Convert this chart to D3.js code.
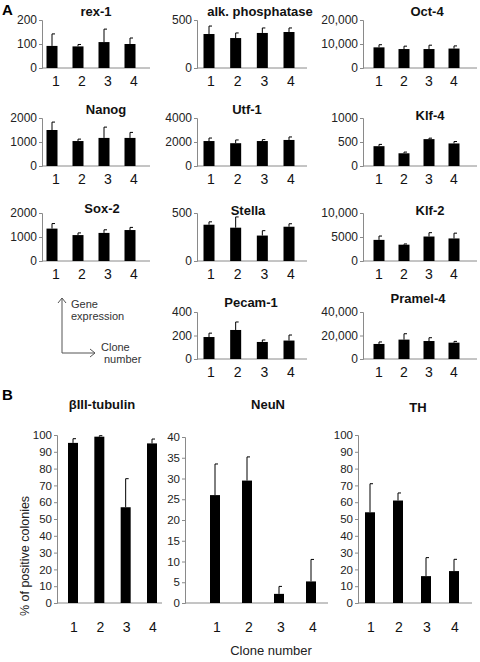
<!DOCTYPE html>
<html><head><meta charset="utf-8">
<script src="https://cdn.jsdelivr.net/npm/d3@7"></script>
<style>
body{margin:0;background:#fff;}
svg{display:block;font-family:"Liberation Sans",Arial,sans-serif;}
</style></head>
<body>
<svg id="chart" width="480" height="662"></svg>
<script>
// ---------- DATA ----------
const clones = ["1","2","3","4"];

const geneNames = ["rex-1","alk. phosphatase","Oct-4","Nanog","Utf-1","Klf-4","Sox-2","Stella","Klf-2","Pecam-1","Pramel-4"];

const rex1Mean   = [92, 90, 108, 100];     const rex1Top   = [142, 98, 162, 125];
const alkMean    = [354, 312, 365, 375];   const alkTop    = [437, 365, 417, 417];
const oct4Mean   = [8600, 7900, 7900, 8100]; const oct4Top = [9700, 9100, 9500, 9200];
const nanogMean  = [1500, 1040, 1170, 1170]; const nanogTop = [1830, 1120, 1620, 1400];
const utf1Mean   = [2080, 1900, 2080, 2170]; const utf1Top  = [2330, 2170, 2200, 2420];
const klf4Mean   = [413, 265, 560, 470];   const klf4Top   = [450, 290, 580, 510];
const sox2Mean   = [1350, 1080, 1170, 1290]; const sox2Top  = [1560, 1170, 1300, 1400];
const stellaMean = [378, 347, 265, 357];   const stellaTop = [408, 459, 316, 388];
const klf2Mean   = [4400, 3400, 5100, 4700]; const klf2Top  = [5200, 3550, 5900, 5800];
const pecamMean  = [187, 247, 145, 157];   const pecamTop  = [220, 315, 162, 204];
const pramelMean = [12800, 16500, 15300, 13900]; const pramelTop = [14500, 21500, 18100, 15000];

const geneTicks = [
  [0,100,200],[0,500],[0,10000,20000],
  [0,1000,2000],[0,2000,4000],[0,500,1000],
  [0,1000,2000],[0,500],[0,5000,10000],
  [0,200,400],[0,20000,40000]
];
const geneTickLabels = [
  ["0","100","200"],["0","500"],["0","10,000","20,000"],
  ["0","1000","2000"],["0","2000","4000"],["0","500","1000"],
  ["0","1000","2000"],["0","500"],["0","5000","10,000"],
  ["0","200","400"],["0","20,000","40,000"]
];

const btubMean = [95.3, 99, 57, 95];  const btubTop = [97.8, 99.6, 74, 97.6];
const neunMean = [26, 29.5, 2.2, 5.2]; const neunTop = [33.5, 35.2, 4, 10.5];
const thMean   = [54, 61, 16, 19];    const thTop   = [71, 65.5, 27, 26];
const pctTicks100 = [0,10,20,30,40,50,60,70,80,90,100];
const pctTicks40  = [0,5,10,15,20,25,30,35,40];
const panelBNames = ["\u03B2III-tubulin","NeuN","TH"];

// ---------- DRAW ----------
const svg = d3.select("#chart");
const AXIS = "#8a8a8a";

function drawBarChart(o){
  const g = svg.append("g");
  const y = d3.scaleLinear().domain([0, o.ticks[o.ticks.length-1]]).range([o.base, o.top]);
  const x = d3.scalePoint().domain(clones).range(o.centers);
  const ya = d3.axisLeft(y).tickValues(o.ticks).tickSize(3)
     .tickFormat((d,i)=>o.tickLabels[i]);
  const yg = g.append("g").attr("transform",`translate(${o.axisX},0)`).call(ya);
  yg.select(".domain").attr("stroke",AXIS);
  yg.selectAll(".tick line").attr("stroke",AXIS);
  yg.selectAll(".tick text").attr("fill","#222").style("font-size",o.tickFont+"px")
    .attr("x",-5).style("font-family","Liberation Sans, Arial, sans-serif");
  g.append("line").attr("x1",o.axisX).attr("x2",o.endX).attr("y1",y(0)).attr("y2",y(0))
    .attr("stroke",AXIS).attr("stroke-width",1);
  const bw = o.barW;
  const data = clones.map((c,i)=>({c, m:o.mean[i], t:o.errTop[i]}));
  g.selectAll(".err").data(data).enter().append("line")
    .attr("x1",d=>x(d.c)).attr("x2",d=>x(d.c)).attr("y1",d=>y(d.m)).attr("y2",d=>y(d.t))
    .attr("stroke","#000").attr("stroke-width",1);
  g.selectAll(".cap").data(data).enter().append("line")
    .attr("x1",d=>x(d.c)).attr("x2",d=>x(d.c)+3).attr("y1",d=>y(d.t)).attr("y2",d=>y(d.t))
    .attr("stroke","#000").attr("stroke-width",1);
  g.selectAll(".bar").data(data).enter().append("rect")
    .attr("x",d=>x(d.c)-bw/2).attr("width",bw)
    .attr("y",d=>y(d.m)).attr("height",d=>y(0)-y(d.m)).attr("fill","#000");
  g.selectAll(".cl").data(data).enter().append("text")
    .attr("x",d=>x(d.c)+(o.labelDx||0)).attr("y",o.labelY).attr("text-anchor","middle")
    .style("font-size",o.catFont+"px").attr("fill","#111").text(d=>d.c);
  g.append("text").attr("x",o.titleX).attr("y",o.titleY).attr("text-anchor","middle")
    .style("font-size",o.titleFont+"px").style("font-weight","bold").attr("fill","#111").text(o.title);
}

const means = [rex1Mean,alkMean,oct4Mean,nanogMean,utf1Mean,klf4Mean,sox2Mean,stellaMean,klf2Mean,pecamMean,pramelMean];
const tops  = [rex1Top,alkTop,oct4Top,nanogTop,utf1Top,klf4Top,sox2Top,stellaTop,klf2Top,pecamTop,pramelTop];

const cols = [
  {axisX:42, endX:150, centers:[52,130], labelDx:4},
  {axisX:197, endX:307, centers:[209,289], labelDx:2},
  {axisX:363, endX:477, centers:[379,454], labelDx:0}
];
const rows = [
  {top:20, base:68},
  {top:118, base:166},
  {top:213, base:261},
  {top:312, base:359}
];
const titlePos = [[96,16],[260,16],[427,16],[106,114],[247,114],[430,120],[102,213],[248,215],[430,215],[251,307],[418,303]];
const cellIdx = [[0,0],[0,1],[0,2],[1,0],[1,1],[1,2],[2,0],[2,1],[2,2],[3,1],[3,2]];

geneNames.forEach((name,i)=>{
  const [r,c] = cellIdx[i];
  drawBarChart({
    axisX:cols[c].axisX, endX:cols[c].endX, centers:cols[c].centers, labelDx:cols[c].labelDx,
    top:rows[r].top, base:rows[r].base,
    ticks:geneTicks[i], tickLabels:geneTickLabels[i],
    mean:means[i], errTop:tops[i], barW:11,
    labelY:rows[r].base+18, catFont:14, tickFont:12,
    title:name, titleX:titlePos[i][0], titleY:titlePos[i][1], titleFont:13
  });
});

// legend arrows
const lg = svg.append("g").attr("stroke","#555").attr("fill","none").attr("stroke-width",1);
lg.append("path").attr("d","M62,353 V298 M58,303 L62,298 L66,303");
lg.append("path").attr("d","M62,353 H95 M90,349 L95,353 L90,357");
const lt = svg.append("g").style("font-size","11px").attr("fill","#333");
lt.append("text").attr("x",71).attr("y",308).text("Gene");
lt.append("text").attr("x",71).attr("y",320).text("expression");
lt.append("text").attr("x",101).attr("y",351).text("Clone");
lt.append("text").attr("x",104).attr("y",363).text("number");

// Panel B
const bCfg = [
  {axisX:57, endX:162, centers:[73,152], top:435, base:603, ticks:pctTicks100, mean:btubMean, errTop:btubTop, titleX:102, titleY:409, labelDx:1},
  {axisX:185, endX:328, centers:[215,311], top:437, base:603, ticks:pctTicks40, mean:neunMean, errTop:neunTop, titleX:268, titleY:409, labelDx:2},
  {axisX:358, endX:472, centers:[370,454], top:435, base:603, ticks:pctTicks100, mean:thMean, errTop:thTop, titleX:418, titleY:412, labelDx:1}
];
bCfg.forEach((b,i)=>{
  drawBarChart(Object.assign({}, b, {
    tickLabels:b.ticks.map(String), barW:10, labelY:632, catFont:14, tickFont:11.5,
    title:panelBNames[i], titleFont:13
  }));
});
svg.append("text").attr("transform","translate(29,556) rotate(-90)").attr("text-anchor","middle")
  .style("font-size","12.5px").attr("fill","#222").text("% of positive colonies");
svg.append("text").attr("x",271).attr("y",655).attr("text-anchor","middle")
  .style("font-size","13px").attr("fill","#222").text("Clone number");

svg.append("text").attr("x",2).attr("y",15).style("font-size","15px").style("font-weight","bold").text("A");
svg.append("text").attr("x",2).attr("y",400).style("font-size","15px").style("font-weight","bold").text("B");
</script>
</body></html>
